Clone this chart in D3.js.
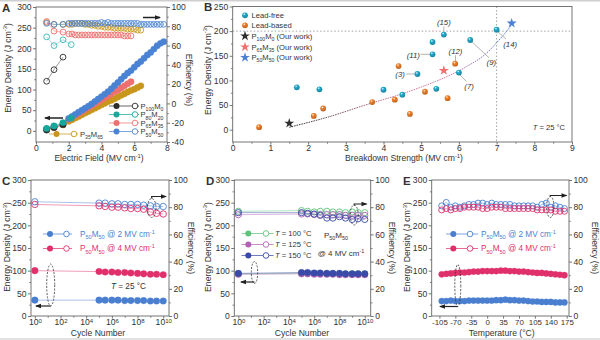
<!DOCTYPE html>
<html><head><meta charset="utf-8">
<script src="https://cdn.jsdelivr.net/npm/d3@7"></script>
<style>
body{margin:0;background:#fff}
text{font-family:"Liberation Sans",Arial,Helvetica,sans-serif;fill:#333;white-space:pre}
</style>
</head><body>
<svg id="c" width="600" height="340"></svg>
<script>
// ================= DATA =================
// Panel A  (electric field MV/cm, energy density J/cm3, efficiency %)
const aP100Field = [0.65, 1.1, 1.65];
const aP100U = [2, 8, 15];
const aP100Eff = [23, 35, 48];
const aP80Field = [0.65, 1.1, 1.65, 2.15];
const aP80U = [6, 12, 20, 31];
const aP80Eff = [69, 60, 66, 61];
const aP65Field = [0.65, 1.1, 1.65, 2.0, 2.2, 2.4, 2.6, 2.8, 3.0, 3.2, 3.4, 3.6, 3.8, 4.0, 4.2, 4.4, 4.6, 4.8, 5.0, 5.2, 5.4, 5.6, 5.8];
const aP65U = [4, 9, 16, 28, 32, 37, 42, 47, 51, 56, 61, 66, 70, 75, 80, 85, 90, 95, 99, 104, 109, 114, 119];
const aP65Eff = [85, 75, 74, 72, 72, 71, 71, 71, 71, 71, 71, 71, 71, 71, 71, 71, 71, 71, 71, 71, 70, 70, 70];
const aP35Field = [0.65, 1.1, 1.65, 2.0, 2.2, 2.4, 2.6, 2.8, 3.0, 3.2, 3.4, 3.6, 3.8, 4.0, 4.2, 4.4, 4.6, 4.8, 5.0, 5.2, 5.4, 5.6, 5.8, 6.0, 6.2, 6.4];
const aP35U = [3, 8, 15, 23, 27, 31, 35, 39, 43, 47, 51, 55, 59, 63, 67, 71, 74, 78, 82, 86, 90, 94, 98, 101, 105, 109];
const aP35Eff = [84, 82, 82, 82, 82, 83, 83, 83, 82, 82, 81, 81, 80, 80, 79, 79, 79, 78, 78, 78, 78, 77, 77, 77, 76, 76];
const aP50Field = [0.65, 1.1, 1.65, 2.0, 2.2, 2.4, 2.6, 2.8, 3.0, 3.2, 3.4, 3.6, 3.8, 4.0, 4.2, 4.4, 4.6, 4.8, 5.0, 5.2, 5.4, 5.6, 5.8, 6.0, 6.2, 6.4, 6.6, 6.8, 7.0, 7.2, 7.4, 7.6, 7.8];
const aP50U = [5, 11, 18, 30, 35, 40, 45, 50, 55, 60, 65, 71, 77, 83, 89, 95, 102, 110, 117, 125, 133, 140, 146, 154, 162, 168, 176, 184, 190, 198, 206, 212, 216];
const aP50Eff = [83, 82, 82, 83, 83, 83, 83, 83, 83, 83, 83, 83, 83, 84, 83, 84, 83, 83, 83, 83, 83, 83, 83, 83, 83, 82, 82, 82, 82, 82, 82, 82, 82];
const aXTicks = [0, 2, 4, 6, 8];
const aLTicks = [0, 50, 100, 150, 200, 250, 300];
const aRTicks = [-40, -20, 0, 20, 40, 60, 80, 100];

// Panel B (breakdown strength MV/cm, energy density J/cm3)
const leadFreeEb = [1.7, 2.3, 4.0, 4.5, 4.9, 5.3, 5.3, 5.4, 5.6, 6.0, 6.3, 7.0];
const leadFreeU = [86, 82, 81, 71, 113, 153, 178, 83, 193, 116, 182, 203];
const leadBasedEb = [0.7, 2.15, 2.4, 3.7, 4.3, 4.4, 4.7, 5.1, 5.7, 5.9];
const leadBasedU = [5, 28, 43, 56, 61, 129, 32, 77, 64, 134];
const ourNames = ["P100M0", "P65M35", "P50M50"];
const ourEb = [1.5, 5.6, 7.4];
const ourU = [13, 120, 216];
const trendEb = [1.5, 2.5, 3.6, 4.5, 5.05, 5.6, 6.2, 6.7, 7.1, 7.38];
const trendU = [5, 25, 52, 73, 88, 105, 128, 153, 185, 210];
const refLabels = ["(15)", "(11)", "(3)", "(12)", "(7)", "(9)", "(14)"];
const refLabelEb = [5.6, 4.79, 4.44, 5.91, 6.27, 6.86, 7.36];
const refLabelU = [218, 152, 112, 159, 89, 136, 173];
const refLeadFrom = [[5.6, 209], [4.98, 153], [4.6, 113], [5.91, 151], [6.03, 111], [6.35, 178], [7.03, 199]];
const refLeadTo = [[5.6, 198], [5.23, 153], [4.84, 113], [5.91, 139], [6.2, 98], [6.8, 146], [7.25, 184]];
const bXTicks = [0, 1, 2, 3, 4, 5, 6, 7, 8, 9];
const bYTicks = [0, 50, 100, 150, 200, 250];

// Panel C (cycles)
const cycles = [1, 1e5, 3e5, 1e6, 3e6, 1e7, 3e7, 1e8, 3e8, 1e9, 3e9, 1e10];
const c2U = [35, 35, 35, 35, 35, 34, 34, 34, 34, 33, 33, 33];
const c4U = [100, 98, 97, 97, 96, 96, 95, 94, 93, 92, 92, 91];
const c2Eff = [84, 83, 83, 82.5, 82.5, 82, 82, 82, 81.5, 81, 80.5, 80.5];
const c4Eff = [82, 81, 80.5, 80, 80, 79.5, 79, 79, 78.5, 76.5, 75.5, 75];
const cycTicks = [1, 1e2, 1e4, 1e6, 1e8, 1e10];
const cycMinor = [1e1, 1e3, 1e5, 1e7, 1e9];
const uTicks = [0, 50, 100, 150, 200, 250, 300];
const effTicks = [0, 20, 40, 60, 80, 100];

// Panel D (cycles at temperatures, 4 MV/cm)
const d100U = [93, 94, 94, 94, 93, 93, 93, 93, 93, 93, 93, 93];
const d125U = [92, 93, 93, 92, 92, 92, 92, 91, 91, 91, 91, 91];
const d150U = [94, 96, 96, 95, 95, 94, 94, 94, 93, 93, 93, 93];
const d100Eff = [77, 77.5, 77, 76.5, 77, 77, 76.5, 76.5, 76, 76.5, 76, 76];
const d125Eff = [74.5, 75, 75, 74.5, 74.5, 74.5, 74.5, 74.5, 74, 74, 74, 74];
const d150Eff = [76, 76, 75.5, 75, 74, 72, 72, 73, 72, 71, 71.5, 71];

// Panel E (temperature)
const temps = [-100, -90, -80, -70, -60, -50, -40, -30, -20, -10, 0, 10, 20, 30, 40, 50, 60, 70, 80, 90, 100, 110, 120, 130, 140, 150, 160, 170];
const e2U = [33, 33, 34, 33, 33, 33, 34, 34, 34, 34, 34, 34, 35, 35, 36, 35, 35, 34, 34, 33, 32, 32, 31, 31, 31, 30, 30, 30];
const e4U = [92, 93, 94, 95, 96, 96, 97, 98, 98, 99, 99, 99, 99, 100, 100, 99, 99, 98, 98, 97, 96, 95, 95, 94, 93, 92, 91, 90];
const e2Eff = [81, 83.5, 80, 81, 80, 81, 82, 82, 83, 83, 82, 83, 82, 82, 82, 82, 81, 81, 81, 81, 81, 80, 82, 83, 80, 81, 80, 79];
const e4Eff = [78, 79, 78, 79, 79, 80, 80, 80, 80, 79, 79, 80, 80, 80, 79, 79, 79, 79, 79, 79, 79, 78, 78, 78, 78, 77, 77, 77];
const tempTicks = [-105, -70, -35, 0, 35, 70, 105, 140, 175];

// ================= DRAWING =================
const svg = d3.select('#c');
const FONT = '"Liberation Sans", Arial, Helvetica, sans-serif';
const FT = 8.6;   // tick labels
const FA = 8.6;   // axis titles
const FL = 7.6;   // legend text
const FL2 = 8.2;  // C/E legend text
const defs = svg.append('defs');

svg.append('line').attr('x1',0).attr('x2',600).attr('y1',0.75).attr('y2',0.75).attr('stroke','#cfcfcf').attr('stroke-width',1.5);
svg.append('line').attr('x1',0).attr('x2',600).attr('y1',339).attr('y2',339).attr('stroke','#d8d8d8').attr('stroke-width',1.5);

function rich(t, parts, fs){
  let shift = 0;
  parts.forEach(p=>{
    const [s,type] = Array.isArray(p)?p:[p,''];
    const target = type==='sub'? fs*0.28 : type==='sup'? -fs*0.38 : 0;
    const ts = t.append('tspan').text(s);
    const dy = target - shift;
    if(dy) ts.attr('dy', dy);
    if(type==='sub'||type==='sup') ts.attr('font-size', fs*0.68);
    if(type==='it') ts.attr('font-style','italic');
    shift = target;
  });
  return t;
}
function txt(x,y,parts,fs,opts={}){
  const t = svg.append('text').attr('x',x).attr('y',y).attr('font-size',fs);
  if(opts.anchor) t.attr('text-anchor',opts.anchor);
  if(opts.rot!==undefined) t.attr('transform',`rotate(${opts.rot},${x},${y})`);
  if(opts.fill) t.style('fill',opts.fill);
  if(opts.weight) t.attr('font-weight',opts.weight);
  if(opts.italic) t.attr('font-style','italic');
  rich(t, parts, fs);
  return t;
}
function frame(x0,y0,x1,y1){
  svg.append('rect').attr('x',x0).attr('y',y0).attr('width',x1-x0).attr('height',y1-y0)
    .attr('fill','none').attr('stroke','#666').attr('stroke-width',0.9);
}
function drawAxis(kind, scale, at, major, minor, fmt, fs=FT){
  const gen = {left:d3.axisLeft, right:d3.axisRight, bottom:d3.axisBottom}[kind];
  const tr = kind==='bottom' ? `translate(0,${at})` : `translate(${at},0)`;
  if(minor && minor.length){
    svg.append('g').attr('transform',tr).call(gen(scale).tickValues(minor).tickSize(1.8).tickSizeOuter(0).tickFormat(''))
      .call(g=>{g.select('.domain').remove(); g.selectAll('line').attr('stroke','#666').attr('stroke-width',0.8);});
  }
  const g = svg.append('g').attr('transform',tr)
    .call(gen(scale).tickValues(major).tickSize(kind==='bottom'?2.6:3).tickSizeOuter(0).tickPadding(kind==='bottom'?0.6:1.5).tickFormat(fmt||(d=>String(d))));
  g.select('.domain').remove();
  g.selectAll('line').attr('stroke','#666').attr('stroke-width',0.9);
  g.attr('font-family',FONT).attr('font-size',fs);
  g.selectAll('text').style('fill','#333');
  return g;
}
function logLabels(g){
  g.selectAll('.tick text').each(function(d){
    const t = d3.select(this); t.text(null);
    t.append('tspan').text('10');
    t.append('tspan').attr('dy','-0.45em').attr('font-size','6px').text(Math.round(Math.log10(d)));
  });
}
function series(xs, ys, xS, yS, color, filled, r, lineOpacity=0.6){
  const pts = xs.map((x,i)=>[xS(x), yS(ys[i])]);
  svg.append('path').attr('d', d3.line()(pts)).attr('fill','none').attr('stroke',color)
    .attr('stroke-width',0.8).attr('opacity',lineOpacity);
  svg.append('g').selectAll('circle').data(pts).join('circle')
    .attr('cx',d=>d[0]).attr('cy',d=>d[1]).attr('r',r)
    .attr('fill',filled?color:'none').attr('stroke',color).attr('stroke-width',filled?0.3:0.9);
}
function arrow(pts, w=1.2){
  svg.append('path').attr('d', d3.line()(pts)).attr('fill','none').attr('stroke','#222').attr('stroke-width',w);
  const [x2,y2]=pts[pts.length-1], [x1,y1]=pts[pts.length-2];
  const a=Math.atan2(y2-y1,x2-x1), L=5, W=2.3;
  const p=[[x2+1*Math.cos(a),y2+1*Math.sin(a)],[x2-L*Math.cos(a)+W*Math.sin(a), y2-L*Math.sin(a)-W*Math.cos(a)],[x2-L*Math.cos(a)-W*Math.sin(a), y2-L*Math.sin(a)+W*Math.cos(a)]];
  svg.append('path').attr('d','M'+p.join('L')+'Z').attr('fill','#222');
}
function ellipse(cx,cy,rx,ry){
  svg.append('ellipse').attr('cx',cx).attr('cy',cy).attr('rx',rx).attr('ry',ry)
    .attr('fill','none').attr('stroke','#333').attr('stroke-width',0.8).attr('stroke-dasharray','2,1.4');
}
function legendRow(x1, x2, y, xs, xo, color, textX, parts, textColor, fs=FL){
  svg.append('line').attr('x1',x1).attr('x2',x2).attr('y1',y).attr('y2',y).attr('stroke',color).attr('stroke-width',0.9).attr('opacity',0.8);
  svg.append('circle').attr('cx',xs).attr('cy',y).attr('r',3).attr('fill',color);
  svg.append('circle').attr('cx',xo).attr('cy',y).attr('r',2.8).attr('fill','#fff').attr('stroke',color).attr('stroke-width',0.9);
  txt(textX, y+2.9, parts, fs, {fill:textColor||'#333'});
}
const ED = ['Energy Density (J cm',['-3','sup'],')'];

// ---------- Panel A ----------
{
  const x0=36,x1=167,y0=7,y1=142;
  const x = d3.scaleLinear().domain([0,8]).range([x0,x1]);
  const yL = d3.scaleLinear().domain([-27,300]).range([y1,y0]);
  const yR = d3.scaleLinear().domain([-40,100]).range([y1,y0]);
  const cols = {p100:'#2d2d2d', p80:'#17a79b', p65:'#ee6f6f', p35:'#c8961c', p50:'#4b83d4'};
  series(aP35Field, aP35Eff, x, yR, cols.p35, false, 2.9);
  series(aP65Field, aP65Eff, x, yR, cols.p65, false, 2.9);
  series(aP50Field, aP50Eff, x, yR, cols.p50, false, 2.9);
  series(aP80Field, aP80Eff, x, yR, '#3bb8b3', false, 2.9);
  series(aP100Field, aP100Eff, x, yR, cols.p100, false, 2.9);
  series(aP35Field, aP35U, x, yL, cols.p35, true, 3.2);
  series(aP65Field, aP65U, x, yL, cols.p65, true, 3.2);
  series(aP50Field, aP50U, x, yL, cols.p50, true, 3.2);
  series(aP100Field, aP100U, x, yL, cols.p100, true, 3.2);
  series(aP80Field, aP80U, x, yL, cols.p80, true, 3.2);
  frame(x0,y0,x1,y1);
  drawAxis('left', yL, x0, aLTicks, [25,75,125,175,225,275]);
  drawAxis('right', yR, x1, aRTicks, [-30,-10,10,30,50,70,90]);
  drawAxis('bottom', x, y1, aXTicks, [1,3,5,7]);
  txt(10.5, 68, ED, FA, {anchor:'middle', rot:-90});
  txt(186, 80, ['Efficiency (%)'], FA, {anchor:'middle', rot:90});
  txt(99, 161, ['Electric Field (MV cm',['-1','sup'],')'], FA, {anchor:'middle'});
  arrow([[63,118],[45,118]], 1.5);
  arrow([[143,17.5],[160,17.5]], 1.5);
  legendRow(109,139,106, 116.5, 135, cols.p100, 140.5, ['P',['100','sub'],'M',['0','sub']]);
  legendRow(109,139,114.5, 116.5, 135, cols.p80, 140.5, ['P',['80','sub'],'M',['20','sub']]);
  legendRow(109,139,123, 116.5, 135, cols.p65, 140.5, ['P',['65','sub'],'M',['35','sub']]);
  legendRow(109,139,131.5, 116.5, 135, cols.p50, 140.5, ['P',['50','sub'],'M',['50','sub']]);
  legendRow(49,78,134, 56.5, 74, cols.p35, 80, ['P',['35','sub'],'M',['65','sub']]);
  txt(2, 12, ['A'], 11.5, {weight:'bold'});
}

// ---------- Panel B ----------
{
  const x0=232.7,x1=572,y0=6.5,y1=142;
  const x = d3.scaleLinear().domain([0,9]).range([x0,x1]);
  const y = d3.scaleLinear().domain([-25,250]).range([y1,y0]);
  function sphere(id,c){
    const g=defs.append('radialGradient').attr('id',id).attr('cx','38%').attr('cy','32%').attr('r','70%');
    g.append('stop').attr('offset','0%').attr('stop-color','#ffffff');
    g.append('stop').attr('offset','30%').attr('stop-color',c);
    g.append('stop').attr('offset','100%').attr('stop-color',d3.color(c).darker(0.7));
  }
  sphere('gFree','#22a9cb'); sphere('gBased','#f07f28');
  svg.append('line').attr('x1',x0).attr('x2',x1).attr('y1',y(200)).attr('y2',y(200)).attr('stroke','#999').attr('stroke-width',0.9).attr('stroke-dasharray','1.5,2');
  svg.append('line').attr('x1',x(7)).attr('x2',x(7)).attr('y1',y0).attr('y2',y1).attr('stroke','#999').attr('stroke-width',0.9).attr('stroke-dasharray','1.5,2');
  const lg = defs.append('linearGradient').attr('id','trend').attr('gradientUnits','userSpaceOnUse')
    .attr('x1',x(1.5)).attr('x2',x(7.4)).attr('y1',0).attr('y2',0);
  lg.append('stop').attr('offset','0%').attr('stop-color','#333');
  lg.append('stop').attr('offset','45%').attr('stop-color','#c77a9a');
  lg.append('stop').attr('offset','70%').attr('stop-color','#e07a9e');
  lg.append('stop').attr('offset','100%').attr('stop-color','#4b7fd4');
  svg.append('path').attr('d', d3.line().curve(d3.curveMonotoneX)(trendEb.map((e,i)=>[x(e),y(trendU[i])])))
    .attr('fill','none').attr('stroke','url(#trend)').attr('stroke-width',1).attr('stroke-dasharray','1.6,0.9');
  refLeadFrom.forEach((f,i)=>{
    svg.append('line').attr('x1',x(f[0])).attr('y1',y(f[1])).attr('x2',x(refLeadTo[i][0])).attr('y2',y(refLeadTo[i][1]))
      .attr('stroke','#aaa').attr('stroke-width',0.9);
  });
  refLabels.forEach((l,i)=>txt(x(refLabelEb[i]), y(refLabelU[i])+2.8, [l], 7.8, {anchor:'middle', italic:true}));
  svg.append('g').selectAll('circle').data(leadBasedEb).join('circle')
    .attr('cx',(d)=>x(d)).attr('cy',(d,i)=>y(leadBasedU[i])).attr('r',2.9).attr('fill','url(#gBased)');
  svg.append('g').selectAll('circle').data(leadFreeEb).join('circle')
    .attr('cx',(d)=>x(d)).attr('cy',(d,i)=>y(leadFreeU[i])).attr('r',2.9).attr('fill','url(#gFree)');
  const starCols = ['#2d2d2d','#f07070','#4b80d6'];
  const star = d3.symbol().type(d3.symbolStar);
  ourEb.forEach((e,i)=>{
    svg.append('path').attr('d', star.size(i===0?30:32)()).attr('transform',`translate(${x(e)},${y(ourU[i])})`).attr('fill',starCols[i]);
  });
  frame(x0,y0,x1,y1);
  drawAxis('left', y, x0, bYTicks, [25,75,125,175,225]);
  drawAxis('bottom', x, y1, bXTicks, [0.5,1.5,2.5,3.5,4.5,5.5,6.5,7.5,8.5]);
  txt(210.5, 70, ED, FA, {anchor:'middle', rot:-90});
  txt(404, 161, ['Breakdown Strength (MV cm',['-1','sup'],')'], FA, {anchor:'middle'});
  svg.append('circle').attr('cx',245).attr('cy',15.3).attr('r',2.9).attr('fill','url(#gFree)');
  txt(251.5, 18.2, ['Lead-free'], FL);
  svg.append('circle').attr('cx',245).attr('cy',25.3).attr('r',2.9).attr('fill','url(#gBased)');
  txt(251.5, 28.2, ['Lead-based'], FL);
  const legY = [36, 47, 57.5];
  const legParts = [['P',['100','sub'],'M',['0','sub'],' (Our work)'],['P',['65','sub'],'M',['35','sub'],' (Our work)'],['P',['50','sub'],'M',['50','sub'],' (Our work)']];
  legY.forEach((ly,i)=>{
    svg.append('path').attr('d', star.size(30)()).attr('transform',`translate(245,${ly})`).attr('fill',starCols[i]);
    txt(251.5, ly+2.8, legParts[i], FL);
  });
  txt(565, 130, [['T','it'],' = 25 °C'], FL, {anchor:'end'});
  txt(204, 11, ['B'], 11.5, {weight:'bold'});
}

// ---------- Panel C ----------
const yU = d3.scaleLinear().domain([0,300]).range([316,180]);
const yE = d3.scaleLinear().domain([0,100]).range([316,180]);
{
  const x0=31,x1=169;
  const x = d3.scaleLog().domain([Math.pow(10,-0.3), Math.pow(10,10.45)]).range([x0,x1]);
  const blue='#4a7fd0', pink='#e0306c';
  series(cycles, c2Eff, x, yE, blue, false, 3.2);
  series(cycles, c4Eff, x, yE, pink, false, 3.2);
  series(cycles, c4U, x, yU, pink, true, 3.3);
  series(cycles, c2U, x, yU, blue, true, 3.3);
  frame(x0,180,x1,316);
  drawAxis('left', yU, x0, uTicks, [25,75,125,175,225,275]);
  drawAxis('right', yE, x1, effTicks, [10,30,50,70,90]);
  logLabels(drawAxis('bottom', x, 316, cycTicks, cycMinor));
  txt(10, 247, ED, FA, {anchor:'middle', rot:-90});
  txt(187.5, 248, ['Efficiency (%)'], FA, {anchor:'middle', rot:90});
  txt(98, 335.5, ['Cycle Number'], FA, {anchor:'middle'});
  legendRow(43,72,234, 50, 66.5, blue, 80, ['P',['50','sub'],'M',['50','sub'],' @ 2 MV cm',['-1','sup']], blue, FL2);
  legendRow(43,72,248.5, 50, 66.5, pink, 80, ['P',['50','sub'],'M',['50','sub'],' @ 4 MV cm',['-1','sup']], pink, FL2);
  txt(111, 288.5, [['T','it'],' = 25 °C'], FL2);
  ellipse(50.7, 285, 4, 21);
  arrow([[50.7,306],[36,306]]);
  ellipse(151.7, 208, 4.3, 9.5);
  arrow([[151.7,198.5],[151.7,196.5],[166,196.5]]);
  txt(2, 185, ['C'], 11.5, {weight:'bold'});
}

// ---------- Panel D ----------
{
  const x0=234.3,x1=370.7;
  const x = d3.scaleLog().domain([Math.pow(10,-0.32), Math.pow(10,10.47)]).range([x0,x1]);
  const green='#5ec27c', purple='#b262b5', navy='#3a4aa8';
  series(cycles, d100Eff, x, yE, green, false, 3.1);
  series(cycles, d125Eff, x, yE, purple, false, 3.1);
  series(cycles, d150Eff, x, yE, navy, false, 3.1);
  series(cycles, d100U, x, yU, green, true, 3.3);
  series(cycles, d125U, x, yU, purple, true, 3.3);
  series(cycles, d150U, x, yU, navy, true, 3.3);
  frame(x0,180,x1,316);
  drawAxis('left', yU, x0, uTicks, [25,75,125,175,225,275]);
  drawAxis('right', yE, x1, effTicks, [10,30,50,70,90]);
  logLabels(drawAxis('bottom', x, 316, cycTicks, cycMinor));
  txt(210.5, 247, ED, FA, {anchor:'middle', rot:-90});
  txt(389, 248, ['Efficiency (%)'], FA, {anchor:'middle', rot:90});
  txt(302, 335.5, ['Cycle Number'], FA, {anchor:'middle'});
  legendRow(241.5,273.5,233.5, 248.3, 266, green, 275, [['T','it'],' = 100 °C']);
  legendRow(241.5,273.5,244.5, 248.3, 266, purple, 275, [['T','it'],' = 125 °C']);
  legendRow(241.5,273.5,255.5, 248.3, 266, navy, 275, [['T','it'],' = 150 °C']);
  txt(336, 238, ['P',['50','sub'],'M',['50','sub']], 8, {anchor:'middle'});
  txt(341, 256, ['@ 4 MV cm',['-1','sup']], 8, {anchor:'middle'});
  ellipse(254.5, 272.5, 3.2, 11);
  arrow([[254.5,282],[241,282]]);
  ellipse(354.2, 215, 4, 10);
  arrow([[354.2,205.5],[354.2,204],[366.5,204]]);
  txt(206, 185, ['D'], 11.5, {weight:'bold'});
}

// ---------- Panel E ----------
{
  const x0=431.7,x1=569;
  const x = d3.scaleLinear().domain([-122,180]).range([x0,x1]);
  const blue='#4a7fd0', pink='#e0306c';
  series(temps, e2Eff, x, yE, blue, false, 3);
  series(temps, e4Eff, x, yE, pink, false, 3);
  series(temps, e4U, x, yU, pink, true, 3.1);
  series(temps, e2U, x, yU, blue, true, 3.1);
  frame(x0,180,x1,316);
  drawAxis('left', yU, x0, uTicks, [25,75,125,175,225,275]);
  drawAxis('right', yE, x1, effTicks, [10,30,50,70,90]);
  drawAxis('bottom', x, 316, tempTicks, [], null, 7.9);
  txt(410, 247, ED, FA, {anchor:'middle', rot:-90});
  txt(591.5, 248, ['Efficiency (%)'], FA, {anchor:'middle', rot:90});
  txt(501.7, 335.5, ['Temperature (°C)'], FA, {anchor:'middle'});
  legendRow(446,478,234, 453.3, 470, blue, 481, ['P',['50','sub'],'M',['50','sub'],' @ 2 MV cm',['-1','sup']], blue, FL2);
  legendRow(446,478,248.5, 453.3, 470, pink, 481, ['P',['50','sub'],'M',['50','sub'],' @ 4 MV cm',['-1','sup']], pink, FL2);
  ellipse(457.8, 285.5, 3, 21);
  arrow([[457.8,306.5],[440,306.5]]);
  ellipse(550.3, 207, 3.7, 10.5);
  arrow([[550.3,196.5],[550.3,195.5],[566.5,195.5]]);
  txt(403, 185, ['E'], 11.5, {weight:'bold'});
}
</script>
</body></html>
